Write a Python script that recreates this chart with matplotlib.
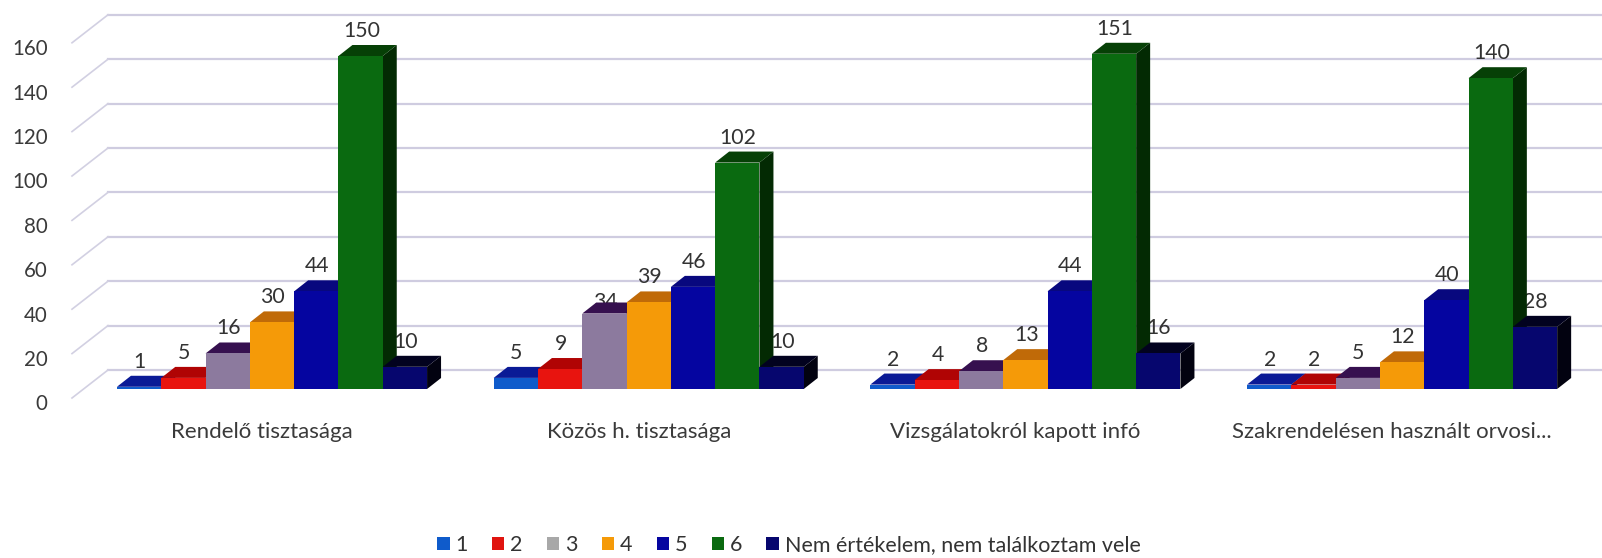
import matplotlib
matplotlib.use("Agg")
import matplotlib.pyplot as plt
from matplotlib.patches import Patch, Polygon
from matplotlib.transforms import ScaledTranslation

plt.rcParams["font.family"] = ["Lato", "DejaVu Sans"]

categories = ["Rendelő tisztasága", "Közös h. tisztasága", "Vizsgálatokról kapott infó", "Szakrendelésen használt orvosi..."]
series_names = ["1", "2", "3", "4", "5", "6", "Nem értékelem, nem találkoztam vele"]
s1 = [1, 5, 2, 2]
s2 = [5, 9, 4, 2]
s3 = [16, 34, 8, 5]
s4 = [30, 39, 13, 12]
s5 = [44, 46, 44, 40]
s6 = [150, 102, 151, 140]
s7 = [10, 10, 16, 28]
y_ticks = [0, 20, 40, 60, 80, 100, 120, 140, 160]

all_series = [s1, s2, s3, s4, s5, s6, s7]
front = ["#0F5BCB", "#E8140F", "#8C7A9E", "#F59A08", "#0505A0", "#0A6A10", "#06066E"]
top = ["#0A1A96", "#B00404", "#36104F", "#C06A08", "#08087E", "#064006", "#02021F"]
side = ["#061070", "#800202", "#28083A", "#8A4C04", "#040460", "#032A03", "#020210"]
legend_colors = ["#0F5BCB", "#E0140F", "#A8A8A8", "#F59A08", "#0505A0", "#0A6A10", "#06066E"]

W, H = 1602, 558
PX_PER_GROUP = 376.7
PX_PER_VALUE = 2.22
X0_PX = 272  # centre of the first group
Y0_PX = 389  # bar base
LEFT_PX = 108
TOP_PX = 5

fig = plt.figure(figsize=(W / 100, H / 100), dpi=100)
ax = fig.add_axes([LEFT_PX / W, 1 - Y0_PX / H, 1 - LEFT_PX / W, (Y0_PX - TOP_PX) / H])
ax.set_xlim((LEFT_PX - X0_PX) / PX_PER_GROUP, (W - X0_PX) / PX_PER_GROUP)
ax.set_ylim(0, (Y0_PX - TOP_PX) / PX_PER_VALUE)
for sp in ax.spines.values():
    sp.set_visible(False)

bar_w = 44.3 / PX_PER_GROUP
dx = 14 / PX_PER_GROUP
dy = 11 / PX_PER_VALUE
wall_dy = 19 / PX_PER_VALUE
wall_x = 36 / PX_PER_GROUP
wall_drop = 28 / PX_PER_VALUE
x_left, x_right = ax.get_xlim()

# grid on the back wall and the left wall
for v in y_ticks:
    ax.plot([x_left, x_right], [v + wall_dy, v + wall_dy], color="#CFCCE0", lw=1.6, zorder=1, clip_on=False)
    ax.plot([x_left - wall_x, x_left], [v + wall_dy - wall_drop, v + wall_dy], color="#D2D0E2", lw=1.2, zorder=1, clip_on=False)

for g in range(len(categories)):
    for i, vals in enumerate(all_series):
        v = vals[g]
        x = g + (i - 3) * bar_w
        lab_y = 8 if v == 34 else 18  # the 34 sits lower in the original, half behind its bar
        ax.annotate(str(v), (x, v), xytext=(0.5, lab_y), textcoords="offset points",
                    ha="center", va="center", fontsize=15.3, color="#333333", zorder=2, annotation_clip=False)
        z = 3 + g * 10 + i
        l, r = x - bar_w / 2, x + bar_w / 2
        ax.add_patch(Polygon([(r, 0), (r + dx, dy), (r + dx, v + dy), (r, v)], fc=side[i], ec="none", zorder=z, clip_on=False))
        ax.add_patch(Polygon([(l, v), (r, v), (r + dx, v + dy), (l + dx, v + dy)], fc=top[i], ec="none", zorder=z, clip_on=False))
        ax.bar(x, v, width=bar_w, color=front[i], zorder=z + 0.5, clip_on=False)

ax.set_xticks(range(len(categories)), categories)
ax.set_yticks(y_ticks)
ax.tick_params(axis="both", length=0, labelcolor="#3A3A3A")
ax.tick_params(axis="x", pad=23.5, labelsize=16)
ax.tick_params(axis="y", pad=43.5, labelsize=14.8)
for lab in ax.get_xticklabels():
    lab.set_transform(lab.get_transform() + ScaledTranslation(-10 / 100, 0, fig.dpi_scale_trans))
for lab in ax.get_yticklabels():
    lab.set_transform(lab.get_transform() + ScaledTranslation(0, -13.5 / 100, fig.dpi_scale_trans))

handles = [Patch(fc=c, ec="none") for c in legend_colors]
fig.legend(handles, series_names, loc="center", bbox_to_anchor=(789 / W, 1 - 545 / H), ncol=7, frameon=False,
           fontsize=15.5, labelcolor="#333333", handlelength=0.57, handleheight=0.57,
           handletextpad=0.28, columnspacing=1.12, borderpad=0)

fig.savefig("out.png", dpi=100)
